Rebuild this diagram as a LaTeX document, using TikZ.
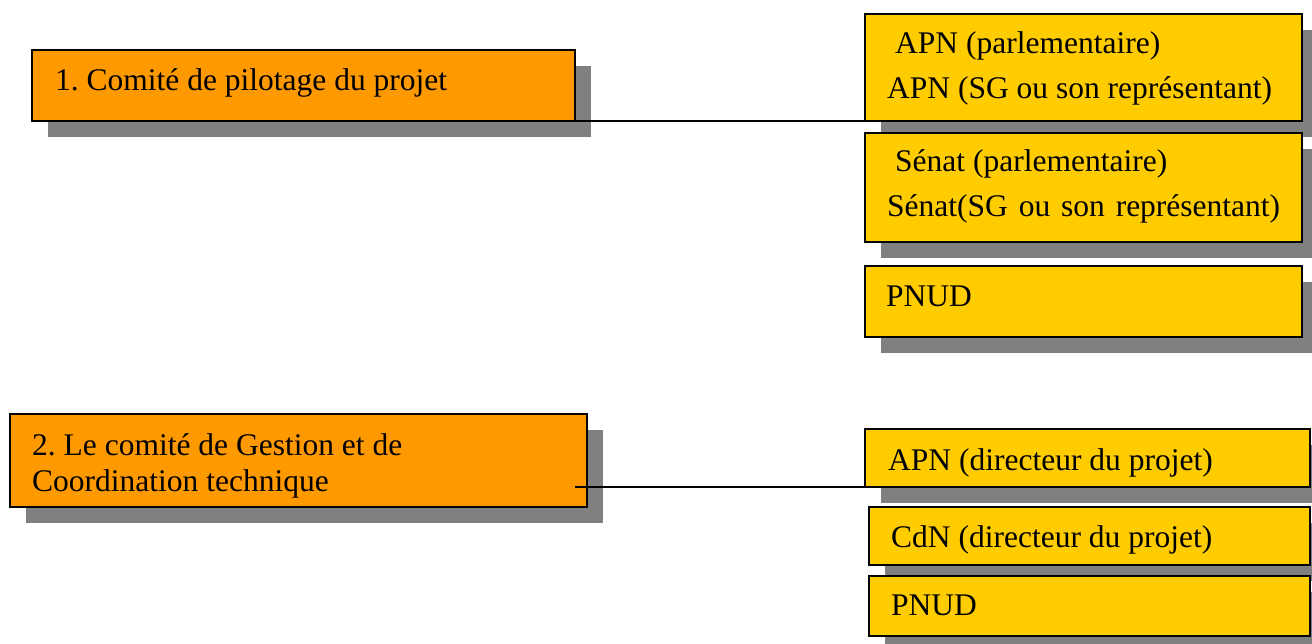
\documentclass[tikz,border=0pt]{standalone}
\usepackage{fontspec}
\setmainfont{Liberation Serif}
\usetikzlibrary{shadows}
\definecolor{orangebox}{HTML}{FF9900}
\definecolor{yellowbox}{HTML}{FFCC00}
\definecolor{shadowgray}{HTML}{808080}
\frenchspacing
\begin{document}
\begin{tikzpicture}[x=1pt,y=-1pt,
  boxbase/.style={draw=black, line width=1.8pt, inner sep=0pt, outer sep=0pt, anchor=north west,
    drop shadow={shadow xshift=16pt, shadow yshift=-16pt, fill=shadowgray, opacity=1}},
  obox/.style={boxbase, fill=orangebox},
  ybox/.style={boxbase, fill=yellowbox},
  txt/.style={anchor=base west, inner sep=0pt, font=\fontsize{31.5}{38}\selectfont},
  conn/.style={draw=black, line width=1.8pt}]
\clip (0,0) rectangle (1312,644);
\useasboundingbox (0,0) rectangle (1312,644);
% left boxes
\node[obox, minimum width=543, minimum height=71] (c1) at (32,50) {};
\node[obox, minimum width=577, minimum height=93] (c2) at (10,414) {};
% right boxes, group 1
\node[ybox, minimum width=437, minimum height=107] (r1) at (865,14) {};
\node[ybox, minimum width=437, minimum height=109] (r2) at (865,133) {};
\node[ybox, minimum width=437, minimum height=71] (r3) at (865,266) {};
% right boxes, group 2
\node[ybox, minimum width=445, minimum height=58] (r4) at (865,429) {};
\node[ybox, minimum width=441, minimum height=58] (r5) at (869,507) {};
\node[ybox, minimum width=441, minimum height=60] (r6) at (869,576) {};
% texts
\node[txt] (t1) at (55,91) {1. Comité de pilotage du projet};
\node[txt] (t2a) at (32,455) {2. Le comité de Gestion et de};
\node[txt] (t2b) at (32,491) {Coordination technique};
\node[txt] (tr1a) at (895,54) {APN (parlementaire)};
\node[txt] (tr1b) at (887,99) {APN (SG ou son représentant)};
\node[txt] (tr2a) at (895,172) {Sénat (parlementaire)};
\node[txt] (tr2b) at (887,217) {\makebox[393pt][s]{Sénat(SG ou son représentant)}};
\node[txt] (tr3) at (886,307) {PNUD};
\node[txt] (tr4) at (888,470) {APN (directeur du projet)};
\node[txt] (tr5) at (891,547) {CdN (directeur du projet)};
\node[txt] (tr6) at (891,615) {PNUD};
% connectors
\coordinate (j2) at (575,487);
\draw[conn] (c1.south east) -- (r1.south west);
\draw[conn] (j2) -- (r4.south west);
\end{tikzpicture}
\end{document}
